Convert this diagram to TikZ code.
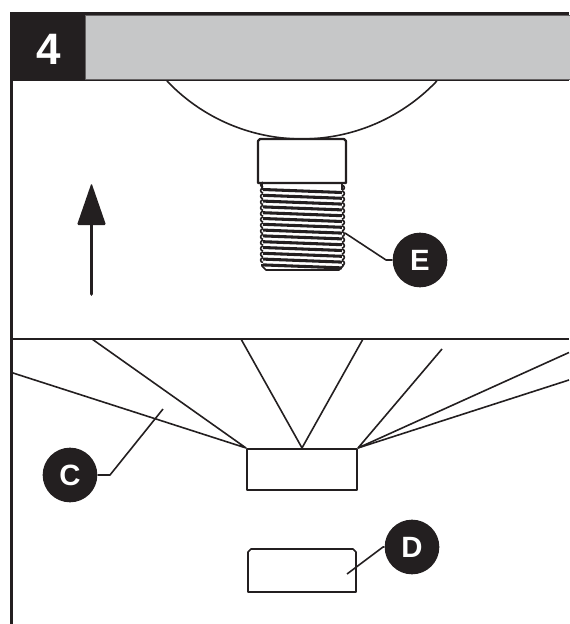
\documentclass[tikz,border=0pt]{standalone}
\usepackage{fontspec}
\setmainfont{Liberation Sans}
\definecolor{ink}{HTML}{231F20}
\definecolor{headgray}{HTML}{C6C7C8}
\begin{document}
\begin{tikzpicture}[
            x=0.75pt, y=-0.75pt,
            line join=round,
            main line/.style={draw=ink,line width=1.6pt},
            thin line/.style={draw=ink,line width=1.2pt},
            badge/.style={circle,fill=ink,text=white,inner sep=0pt,minimum size=41pt,font=\fontsize{22}{22}\selectfont\bfseries},
            block/.style={draw=ink,line width=1.6pt,inner sep=0pt,minimum width=82.5pt,minimum height=30.75pt},
            ]
            \useasboundingbox (0,0) rectangle (569,624);

            % header and frame
            \fill[ink] (10,12) rectangle (569,81.5);
            \fill[ink] (10,12) rectangle (13,624);
            \draw[fill=headgray,draw=ink!70,line width=0.7pt] (85.5,15.5) rectangle (570,79.5);
            \node[text=white,font=\fontsize{33}{33}\selectfont\bfseries] (step4) at (48.5,49) {4};
            \draw[main line] (13,339) -- (569,339);

            % ball and fitting
            \draw[thin line] (167,81) arc[start angle=136.5,end angle=43.5,radius=186];
            \draw[main line] (258,183) -- (258,141) -- (260,139) -- (344,139) -- (346,141) -- (346,183) -- cycle;
            \draw[thin line] (262,183) -- (262,190);
            \draw[thin line] (342,183) -- (342,190);
            \foreach \i in {0,...,13} {
                \pgfmathsetmacro{\ya}{189.5+\i*5.8}
                \draw[ink,line width=2.3pt] (263,\ya) -- (342,\ya+3);
                \draw[thin line] (263,\ya-2.4) arc[start angle=90,end angle=270,radius=2.4];
                \draw[thin line] (342,\ya+0.6) arc[start angle=90,end angle=-90,radius=2.4];
            }
            \draw[thin line] (262,264) -- (262,266) -- (266,270) -- (339,270) -- (343,266) -- (343,264);

            % arrow
            \fill[ink,rounded corners=1pt] (91.5,183) -- (106,225) -- (77,225) -- cycle;
            \draw[ink,line width=2.8pt,line cap=round] (91.5,224) -- (91.5,294);

            % socket and wires
            \node[block] (socket) at (302,469.5) {};
            \coordinate (wire1) at (13,373);
            \coordinate (wire2) at (92,339);
            \coordinate (wire3) at (241,339);
            \coordinate (wire4) at (363,339);
            \coordinate (wire5) at (442,349);
            \coordinate (wire6) at (569,352.5);
            \coordinate (wire7) at (569,380);
            \draw[thin line] (wire1) -- (socket.north west) -- (wire2);
            \draw[thin line] (wire3) -- (socket.north) -- (wire4);
            \draw[thin line] (wire5) -- (socket.north east) -- (wire6);
            \draw[thin line] (socket.north east) -- (wire7);

            % cover
            \draw[thin line] (248,592) -- (248,552) -- (251,549) -- (353,549) -- (356,552) -- (356,592) -- cycle;

            % labels
            \node[badge] (E) at (420,260) {E};
            \node[badge] (C) at (70,475) {C};
            \node[badge] (D) at (412,547) {D};
            \coordinate (Eend) at (345,233);
            \coordinate (Cend) at (163,409);
            \coordinate (Dend) at (347,574);
            \draw[thin line] (E.west) -- (386,260) -- (Eend);
            \draw[thin line] (C.east) -- (110,475) -- (Cend);
            \draw[thin line] (D.west) -- (383,547) -- (Dend);
        \end{tikzpicture}
\end{document}
